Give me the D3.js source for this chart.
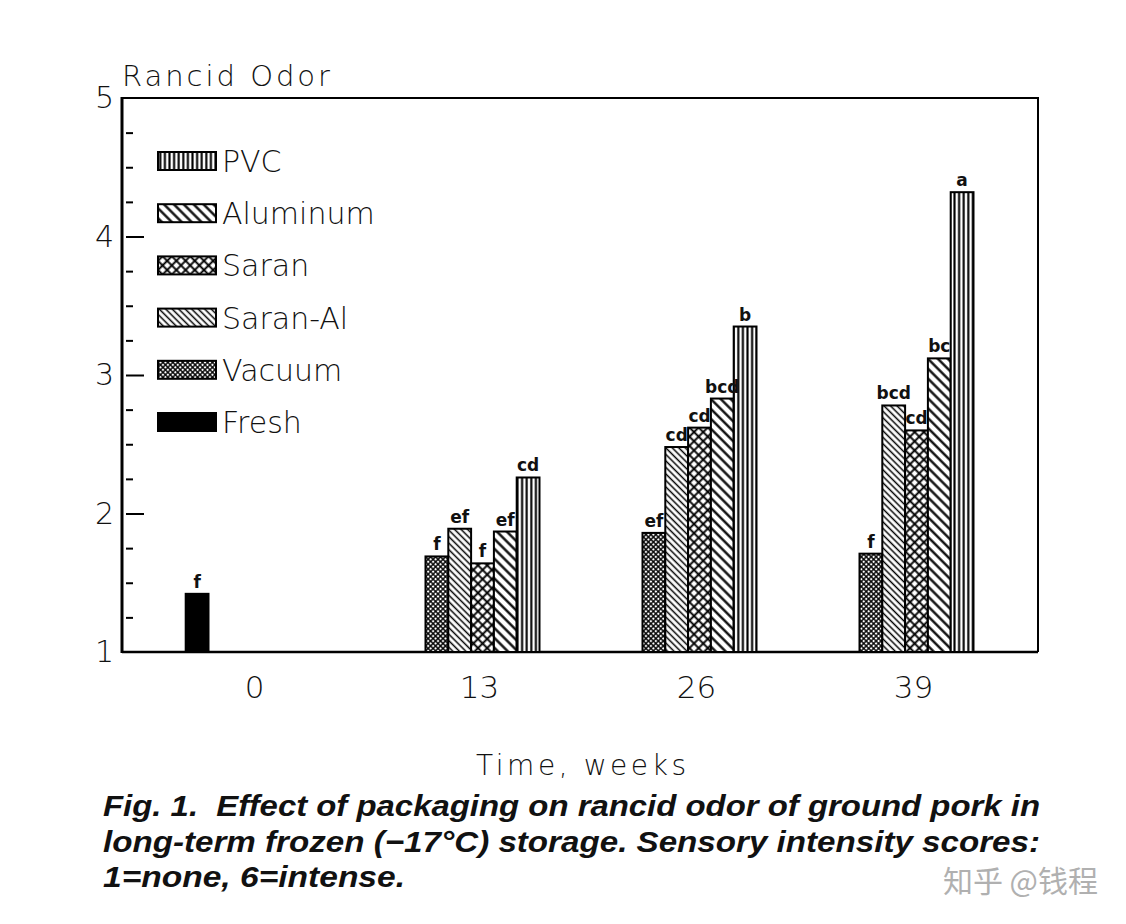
<!DOCTYPE html>
<html>
<head>
<meta charset="utf-8">
<script src="https://cdn.jsdelivr.net/npm/d3@7"></script>
<style>
  body { margin: 0; background: #fff; }
  svg text { fill: #111; }
</style>
</head>
<body>
<div id="chart"></div>
<script>
// data
var weeks = ['0', '13', '26', '39'];
var packages = ['Vacuum', 'Saran-Al', 'Saran', 'Aluminum', 'PVC'];
var legendOrder = ['PVC', 'Aluminum', 'Saran', 'Saran-Al', 'Vacuum', 'Fresh'];
var freshValue = 1.42;
var freshLetter = 'f';
var values13 = [1.69, 1.89, 1.64, 1.87, 2.26];
var values26 = [1.86, 2.48, 2.62, 2.83, 3.35];
var values39 = [1.71, 2.78, 2.60, 3.12, 4.32];
var letters13 = ['f', 'ef', 'f', 'ef', 'cd'];
var letters26 = ['ef', 'cd', 'cd', 'bcd', 'b'];
var letters39 = ['f', 'bcd', 'cd', 'bc', 'a'];
var yMajor = [1, 2, 3, 4, 5];
var yMinor = [1.25, 1.5, 1.75, 2.25, 2.5, 2.75, 3.25, 3.5, 3.75, 4.25, 4.5, 4.75];
var captionLines = [
   'Fig. 1.  Effect of packaging on rancid odor of ground pork in',
   'long-term frozen (\u221217\u00b0C) storage. Sensory intensity scores:',
   '1=none, 6=intense.'
];

var width = 1126,
   height = 924,
   plotLeft = 122,
   plotRight = 1038,
   plotTop = 98,
   plotBottom = 652;

// fresh control sits one slot left of the packaged bars
var bars = [{week: '0', pack: 'Fresh', slot: -1, value: freshValue, letter: freshLetter}];
[[values13, letters13], [values26, letters26], [values39, letters39]].forEach(function (s, gi) {
   s[0].forEach(function (v, i) {
      bars.push({week: weeks[gi + 1], pack: packages[i], slot: i, value: v, letter: s[1][i]});
   });
});

var svg = d3.select('#chart')
   .append('svg')
   .attr('width', width)
   .attr('height', height)
   .style('background', '#fff');

// hatch patterns
var defs = svg.append('defs');
function hatch(id, size, angle, sw, cross) {
   var p = defs.append('pattern')
      .attr('id', id)
      .attr('patternUnits', 'userSpaceOnUse')
      .attr('width', size)
      .attr('height', size)
      .attr('patternTransform', 'rotate(' + angle + ')');
   p.append('rect').attr('width', size).attr('height', size).attr('fill', '#fff');
   p.append('line').attr('x1', size / 2).attr('x2', size / 2).attr('y1', 0).attr('y2', size)
      .attr('stroke', '#000').attr('stroke-width', sw);
   if (cross) {
      p.append('line').attr('y1', size / 2).attr('y2', size / 2).attr('x1', 0).attr('x2', size)
         .attr('stroke', '#000').attr('stroke-width', sw);
   }
}
hatch('pat-pvc', 4.6, 0, 2.1, false);
hatch('pat-aluminum', 7, -45, 2.3, false);
hatch('pat-saranal', 4.6, -45, 1.5, false);
hatch('pat-saran', 6.5, 45, 1.9, true);
hatch('pat-vacuum', 3.5, 45, 1.4, true);

var fills = {
   'PVC': 'url(#pat-pvc)',
   'Aluminum': 'url(#pat-aluminum)',
   'Saran-Al': 'url(#pat-saranal)',
   'Saran': 'url(#pat-saran)',
   'Vacuum': 'url(#pat-vacuum)',
   'Fresh': '#000'
};

var x = d3.scaleBand().domain(weeks).range([157, 1025]).padding(0);
var slot = d3.scaleBand().domain(d3.range(-1, 5)).range([-79.8, 57]).padding(0);
var y = d3.scaleLinear().domain([1, 5]).range([plotBottom, plotTop]);

// frame
svg.append('path')
   .attr('d', 'M' + plotLeft + ',' + plotTop + 'H' + plotRight + 'V' + plotBottom)
   .attr('fill', 'none')
   .attr('stroke', '#000')
   .attr('stroke-width', 2);
svg.append('line')
   .attr('x1', plotLeft).attr('x2', plotRight).attr('y1', plotBottom).attr('y2', plotBottom)
   .attr('stroke', '#000').attr('stroke-width', 2.5);
svg.append('line')
   .attr('x1', plotLeft).attr('x2', plotLeft).attr('y1', plotTop - 1).attr('y2', plotBottom + 1)
   .attr('stroke', '#000').attr('stroke-width', 3);

// y axis: major and minor ticks inside the frame
svg.append('g')
   .attr('transform', 'translate(' + (plotLeft + 4) + ',0)')
   .call(d3.axisLeft(y).tickValues(yMajor.filter(function (d) { return d > 1 && d < 5; })).tickSize(-18).tickFormat(''));
svg.append('g')
   .attr('transform', 'translate(' + (plotLeft + 4) + ',0)')
   .call(d3.axisLeft(y).tickValues(yMinor).tickSize(-7).tickFormat(''));
svg.selectAll('.domain').remove();
svg.selectAll('.tick line').attr('stroke', '#000').attr('stroke-width', 2);

svg.append('g')
   .attr('transform', 'translate(' + (plotLeft - 8) + ',0)')
   .call(d3.axisLeft(y).tickValues(yMajor).tickSize(0).tickPadding(0).tickFormat(d3.format('d')))
   .call(function (g) { g.select('.domain').remove(); })
   .selectAll('text')
   .attr('font-family', 'DejaVu Sans')
   .attr('font-weight', 300)
   .attr('font-size', 30)
   .attr('fill', '#111');

// x axis labels (sit a little left of the group centres, as printed)
var xAxis = svg.append('g')
   .attr('transform', 'translate(-3,' + plotBottom + ')')
   .call(d3.axisBottom(x).tickSize(0).tickPadding(24))
   .call(function (g) { g.select('.domain').remove(); });
xAxis.selectAll('text')
   .attr('font-family', 'DejaVu Sans')
   .attr('font-weight', 300)
   .attr('font-size', 31)
   .attr('fill', '#111');
xAxis.select('.tick text').attr('dx', -8);

// bars
var barG = svg.append('g');
barG.selectAll('rect')
   .data(bars)
   .enter().append('rect')
   .attr('x', function (d) { return x(d.week) + x.bandwidth() / 2 + slot(d.slot); })
   .attr('y', function (d) { return y(d.value); })
   .attr('width', slot.bandwidth())
   .attr('height', function (d) { return y(1) - y(d.value); })
   .attr('fill', function (d) { return fills[d.pack]; })
   .attr('stroke', '#000')
   .attr('stroke-width', 2);

barG.selectAll('text')
   .data(bars)
   .enter().append('text')
   .attr('x', function (d) { return x(d.week) + x.bandwidth() / 2 + slot(d.slot) + slot.bandwidth() / 2; })
   .attr('y', function (d) { return y(d.value) - 6; })
   .attr('text-anchor', 'middle')
   .attr('font-family', 'DejaVu Sans')
   .attr('font-weight', 'bold')
   .attr('font-size', 17)
   .text(function (d) { return d.letter; });

// legend
var legend = svg.append('g')
   .selectAll('g')
   .data(legendOrder)
   .enter().append('g')
   .attr('transform', function (d, i) { return 'translate(158,' + (161 + i * 52.2) + ')'; });
legend.append('rect')
   .attr('x', 0).attr('y', -9)
   .attr('width', 58).attr('height', 18)
   .attr('fill', function (d) { return fills[d]; })
   .attr('stroke', '#000')
   .attr('stroke-width', 2);
legend.append('text')
   .attr('x', 64)
   .attr('y', 11)
   .attr('font-family', 'DejaVu Sans')
   .attr('font-weight', 300)
   .attr('font-size', 30)
   .text(function (d) { return d; });

// titles
svg.append('text')
   .attr('x', plotLeft)
   .attr('y', 86)
   .attr('font-family', 'DejaVu Sans')
   .attr('font-weight', 300)
   .attr('font-size', 29)
   .attr('textLength', 208)
   .attr('lengthAdjust', 'spacing')
   .text('Rancid Odor');

svg.append('text')
   .attr('x', 581)
   .attr('y', 775)
   .attr('text-anchor', 'middle')
   .attr('font-family', 'DejaVu Sans')
   .attr('font-weight', 300)
   .attr('font-size', 28)
   .attr('textLength', 210)
   .attr('lengthAdjust', 'spacing')
   .text('Time, weeks');

var capLen = [937, 937, 302];
svg.append('g')
   .selectAll('text')
   .data(captionLines)
   .enter().append('text')
   .attr('x', 103)
   .attr('y', function (d, i) { return 816 + i * 35.5; })
   .attr('font-family', 'Liberation Sans')
   .attr('font-style', 'italic')
   .attr('font-weight', 'bold')
   .attr('font-size', 30)
   .attr('textLength', function (d, i) { return capLen[i]; })
   .attr('lengthAdjust', 'spacingAndGlyphs')
   .style('white-space', 'pre')
   .text(function (d) { return d; });

// watermark
svg.append('text')
   .attr('x', 1098)
   .attr('y', 892)
   .attr('text-anchor', 'end')
   .attr('font-family', 'Noto Sans CJK SC')
   .attr('font-size', 30)
   .style('fill', '#b0b0b0')
   .text('知乎 @钱程');
</script>
</body>
</html>
